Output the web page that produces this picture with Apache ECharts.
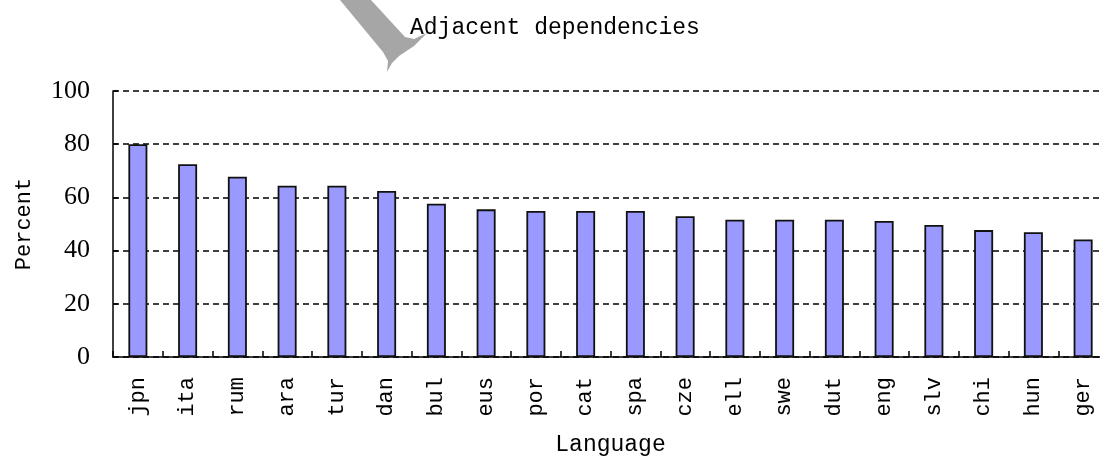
<!DOCTYPE html>
<html>
<head>
<meta charset="utf-8">
<script src="https://cdn.jsdelivr.net/npm/echarts@6/dist/echarts.min.js"></script>
<style>
  html, body { margin: 0; padding: 0; background: #fff; }
  #chart { width: 1100px; height: 459px; }
</style>
</head>
<body>
<div id="chart"></div>
<script>
// languages, sorted by share of adjacent dependencies
const languages = ["jpn", "ita", "rum", "ara", "tur", "dan", "bul", "eus", "por", "cat",
  "spa", "cze", "ell", "swe", "dut", "eng", "slv", "chi", "hun", "ger"];
const percents = [80, 72.5, 67.8, 64.4, 64.4, 62.4, 57.6, 55.5, 54.9, 54.9,
  54.9, 52.9, 51.6, 51.6, 51.6, 51.1, 49.6, 47.7, 46.9, 44.2];
const yTicks = [0, 20, 40, 60, 80, 100];

const monoFont = "'Liberation Mono', monospace";
const serifFont = "'Liberation Serif', serif";

const chart = echarts.init(document.getElementById("chart"));

chart.setOption({
  animation: false,
  backgroundColor: "#fff",
  title: {
    text: "Adjacent dependencies",
    left: 405,
    top: 11,
    textStyle: { fontFamily: monoFont, fontSize: 23, fontWeight: "normal", color: "#000" },
  },
  // faint watermark stroke near the title
  graphic: [
    {
      type: "polygon",
      silent: true,
      z: -1,
      shape: {
        points: [[340, 0], [371, 0], [405, 37], [414, 39], [427, 33], [414, 46],
          [399, 56], [392, 63], [387, 72], [388, 61], [383, 52]],
      },
      style: { fill: "#a6a6a6" },
    },
  ],
  grid: { left: 113, top: 91, width: 995, height: 266, outerBoundsMode: "none" },
  xAxis: {
    type: "category",
    data: languages,
    name: "Language",
    nameLocation: "middle",
    nameGap: 76,
    nameTextStyle: { fontFamily: monoFont, fontSize: 23, color: "#000" },
    axisLine: { show: true, lineStyle: { color: "#000", width: 1.5 } },
    axisTick: { show: true, inside: true, length: 6, lineStyle: { color: "#000", width: 1.5 } },
    axisLabel: {
      rotate: 90,
      margin: 20,
      interval: 0,
      fontFamily: monoFont,
      fontSize: 22,
      color: "#000",
    },
    splitLine: { show: false },
  },
  yAxis: {
    type: "value",
    min: yTicks[0],
    max: yTicks[yTicks.length - 1],
    interval: 20,
    name: "Percent",
    nameLocation: "middle",
    nameGap: 78,
    nameRotate: 90,
    nameTextStyle: { fontFamily: monoFont, fontSize: 22, color: "#000" },
    axisLine: { show: true, lineStyle: { color: "#000", width: 1.5 } },
    axisTick: { show: true, inside: true, length: 5, lineStyle: { color: "#000", width: 1.5 } },
    axisLabel: { margin: 23, fontFamily: serifFont, fontSize: 26, color: "#000" },
    splitLine: {
      show: true,
      lineStyle: { color: "#000", width: 1.5, type: [6, 4] },
    },
  },
  series: [
    {
      type: "bar",
      data: percents,
      barWidth: 19,
      itemStyle: { color: "#9999ff", borderColor: "#111", borderWidth: 1.8 },
    },
  ],
});
</script>
</body>
</html>
